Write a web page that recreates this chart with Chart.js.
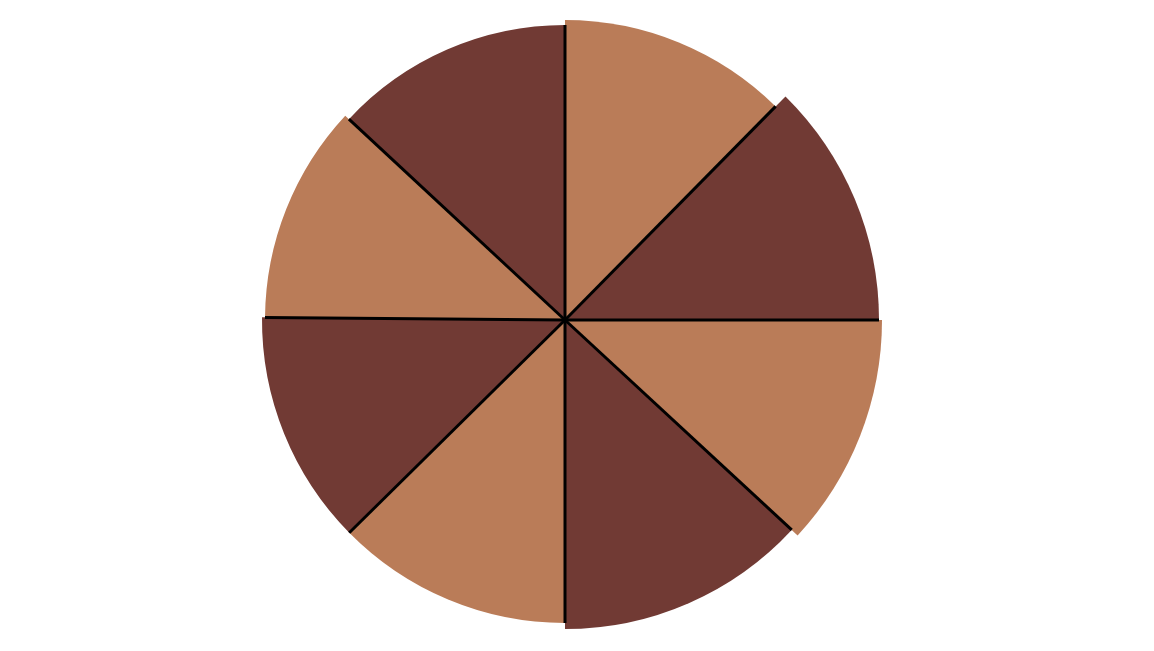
<!DOCTYPE html>
<html>
<head>
<meta charset="utf-8">
<script src="https://cdn.jsdelivr.net/npm/chart.js@4.4.1/dist/chart.umd.min.js"></script>
<style>
  html, body { margin: 0; padding: 0; background: #ffffff; }
  body { width: 1154px; height: 651px; position: relative; overflow: hidden; }
  #wrap { position: absolute; left: 0; top: 0; width: 1130px; height: 640px; }
</style>
</head>
<body>
<div id="wrap"><canvas id="c"></canvas></div>
<script>
// Slices, clockwise from 12 o'clock
const categories = ['A', 'B', 'C', 'D', 'E', 'F', 'G', 'H'];
// angular share of each slice (degrees)
const sliceAngles = [44.6, 45.4, 42.8, 47.2, 45.4, 45.1, 42.4, 47.1];
// radial extent of each slice
const sliceValues = [300, 314, 317, 309, 303, 303, 300, 295];
const scaleMax = 320;
const sliceColors = ['#BA7C58', '#713A34', '#BA7C58', '#713A34', '#BA7C58', '#713A34', '#BA7C58', '#713A34'];

const dividers = {
  id: 'dividers',
  afterDatasetsDraw(chart) {
    const meta = chart.getDatasetMeta(0);
    const arcs = meta.data;
    const ctx = chart.ctx;
    ctx.save();
    ctx.strokeStyle = '#000000';
    ctx.lineWidth = 3;
    ctx.lineCap = 'butt';
    for (let i = 0; i < arcs.length; i++) {
      const a = arcs[i];
      const prev = arcs[(i + arcs.length - 1) % arcs.length];
      const r = Math.min(a.outerRadius, prev.outerRadius);
      ctx.beginPath();
      ctx.moveTo(a.x, a.y);
      ctx.lineTo(a.x + r * Math.cos(a.startAngle), a.y + r * Math.sin(a.startAngle));
      ctx.stroke();
    }
    ctx.restore();
  }
};

new Chart(document.getElementById('c'), {
  type: 'polarArea',
  data: {
    labels: categories,
    datasets: [{
      data: sliceValues,
      backgroundColor: sliceColors,
      borderWidth: 0,
      angle: (ctx) => sliceAngles[ctx.dataIndex]
    }]
  },
  options: {
    responsive: true,
    maintainAspectRatio: false,
    animation: false,
    layout: { padding: 0 },
    scales: {
      r: { display: false, min: 0, max: scaleMax, startAngle: 0 }
    },
    plugins: {
      legend: { display: false },
      tooltip: { enabled: false }
    }
  },
  plugins: [dividers]
});
</script>
</body>
</html>
